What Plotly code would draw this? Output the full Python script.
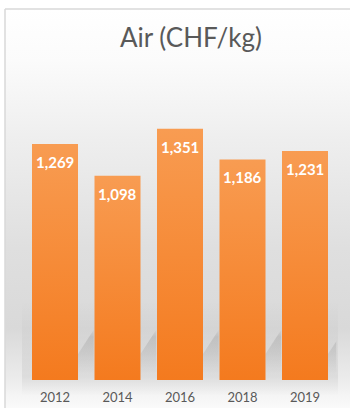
import plotly.graph_objects as go

# Air freight rate by year (CHF per kg)
years = ["2012", "2014", "2016", "2018", "2019"]
rates = [1269, 1098, 1351, 1186, 1231]
labels = ["1,269", "1,098", "1,351", "1,186", "1,231"]

W, H = 350, 408
FONT = "Lato, 'Open Sans', sans-serif"
TEXT_GREY = "#595959"
BAR_TOP = "#f89c52"
BAR_BOTTOM = "#f47a1e"
HALF = 0.368          # half bar width in category units
Y_MAX = 1600

fig = go.Figure()

# ---- backdrop (pixel-space axes x/y) ----
fig.add_trace(go.Scatter(
    x=[5, W, W, 5, 5], y=[9, 9, H, H, 9], mode="lines", line=dict(width=0),
    fill="toself",
    fillgradient=dict(type="vertical", start=9, stop=H, colorscale=[
        [0.0, "#ffffff"], [0.13, "#fbfbfb"], [0.33, "#eeeeee"],
        [0.60, "#dfdfdf"], [0.80, "#d9d9d9"], [0.93, "#ececec"],
        [0.97, "#f5f5f5"], [1.0, "#fafafa"]]),
    hoverinfo="skip", showlegend=False, xaxis="x", yaxis="y"))

# darker floor band behind the bars
fig.add_trace(go.Scatter(
    x=[22, 338, 338, 22, 22], y=[300, 300, 396, 396, 300], mode="lines",
    line=dict(width=0), fill="toself",
    fillgradient=dict(type="vertical", start=300, stop=396, colorscale=[
        [0.0, "rgba(0,0,0,0)"], [0.45, "rgba(0,0,0,0.035)"],
        [0.8, "rgba(0,0,0,0.06)"], [1.0, "rgba(0,0,0,0)"]]),
    hoverinfo="skip", showlegend=False, xaxis="x", yaxis="y"))

# ---- bars (category axes x2/y2) ----
for i, v in enumerate(rates):
    # soft cast shadow to the right of each bar base
    fig.add_trace(go.Scatter(
        x=[i + HALF, i + HALF, i + 0.62, i + 0.62, i + HALF],
        y=[25, 140, 270, 25, 25], mode="lines", line=dict(width=0),
        fill="toself",
        fillgradient=dict(type="vertical", colorscale=[
            [0.0, "rgba(0,0,0,0)"], [0.5, "rgba(0,0,0,0.07)"],
            [0.85, "rgba(0,0,0,0.1)"], [1.0, "rgba(0,0,0,0.02)"]]),
        hoverinfo="skip", showlegend=False, xaxis="x2", yaxis="y2"))

for i, (yr, v) in enumerate(zip(years, rates)):
    fig.add_trace(go.Scatter(
        x=[i - HALF, i - HALF, i + HALF, i + HALF, i - HALF],
        y=[0, v, v, 0, 0], mode="lines", line=dict(width=0),
        fill="toself",
        fillgradient=dict(type="vertical", colorscale=[
            [0.0, BAR_BOTTOM], [1.0, BAR_TOP]]),
        name=yr, hovertemplate=f"{yr}: {v:,}<extra></extra>",
        showlegend=False, xaxis="x2", yaxis="y2"))
    fig.add_annotation(
        x=i, y=v, xref="x2", yref="y2", text=f"<b>{labels[i]}</b>",
        showarrow=False, yanchor="middle", yshift=-18,
        font=dict(family=FONT, size=15, color="white"))

# title
fig.add_annotation(
    x=191 / W, y=1 - 37 / H, xref="paper", yref="paper", text="Air (CHF/kg)",
    showarrow=False, xanchor="center", yanchor="middle",
    font=dict(family=FONT, size=26, color=TEXT_GREY))

# chart-area border (top and left edges)
fig.add_shape(type="line", xref="paper", yref="paper",
              x0=5 / W, x1=1.0, y0=1 - 9 / H, y1=1 - 9 / H,
              line=dict(color="#d9d9d9", width=1.5))
fig.add_shape(type="line", xref="paper", yref="paper",
              x0=5 / W, x1=5 / W, y0=0, y1=1 - 9 / H,
              line=dict(color="#d9d9d9", width=1.5))

fig.update_layout(
    width=W, height=H,
    margin=dict(l=0, r=0, t=0, b=0, pad=0),
    paper_bgcolor="white", plot_bgcolor="rgba(0,0,0,0)",
    showlegend=False,
    xaxis=dict(domain=[0, 1], range=[0, W], visible=False, fixedrange=True),
    yaxis=dict(domain=[0, 1], range=[H, 0], visible=False, fixedrange=True),
    xaxis2=dict(domain=[23.75 / W, 336.25 / W], range=[-0.5, 4.5],
                anchor="y2", tickvals=list(range(len(years))), ticktext=years,
                showgrid=False, zeroline=False, showline=False, ticks="",
                ticklabelstandoff=8,
                tickfont=dict(family=FONT, size=13, color=TEXT_GREY)),
    yaxis2=dict(domain=[(H - 380) / H, (H - 380 + Y_MAX * 0.186) / H],
                range=[0, Y_MAX], anchor="x2", visible=False),
)

fig.write_html("out.html")
